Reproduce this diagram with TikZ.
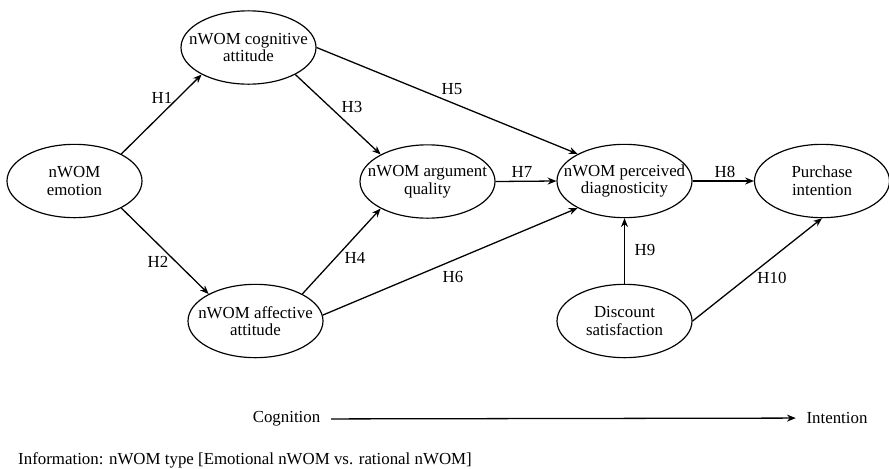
\documentclass[tikz,border=0pt]{standalone}
\usepackage{fontspec}
\setmainfont{Liberation Serif}
\usetikzlibrary{shapes.geometric, arrows.meta}

\tikzset{
  construct/.style={draw, ellipse, line width=1pt, align=center, minimum width=4.05cm, minimum height=2.2cm, inner xsep=-0.45cm, inner ysep=0pt},
  hyp/.style={inner sep=0pt},
  stage/.style={inner xsep=9pt},
}

\begin{document}
\begin{tikzpicture}[x=0.03cm, y=-0.03cm, >={Stealth[length=7.5pt, width=6pt]}, font=\fontsize{14.4}{15}\selectfont]
	\useasboundingbox (0,0) rectangle (889,468);
	% constructs
	\node[construct] (emo) at (74.5,181) {nWOM\\emotion};
	\node[construct] (cog) at (248.5,47.5) {nWOM cognitive\\attitude};
	\node[construct] (aff) at (255.5,321) {nWOM affective\\attitude};
	\node[construct] (arg) at (427.5,181.5) {nWOM argument\\quality};
	\node[construct] (diag) at (624.5,181) {nWOM perceived\\diagnosticity};
	\node[construct] (pur) at (822,181) {Purchase\\intention};
	\node[construct] (disc) at (624.5,321) {Discount\\satisfaction};
	% hypotheses H1 ... H10
	\foreach \a/\b in {emo.30/cog.210, emo.-30/aff.150, cog.-30/arg.150, aff.30/arg.210, cog.0/diag.150,
		aff.5/diag.210, arg.east/diag.west, diag.east/pur.west, disc.north/diag.south, disc.east/pur.south}
		\draw [black, line width=1.1pt, ->] (\a) -- (\b);
	\foreach \n/\x/\y in {1/162/98, 2/158/262, 3/352/107, 4/355/258, 5/452/89, 6/453/277, 7/522/172, 8/725/172, 9/645/250, 10/772/278}
		\node[hyp] (h\n) at (\x,\y) {H\n};
	% cognition -> intention
	\node[stage] (cogn) at (286.5,419) {Cognition};
	\node[stage] (intn) at (837,418) {Intention};
	\draw [black, line width=1.1pt, ->] (cogn) -- (intn);
	\node[anchor=west, inner sep=0pt] (info) at (18,460) {Information: nWOM type [Emotional nWOM vs. rational nWOM]};
\end{tikzpicture}
\end{document}
